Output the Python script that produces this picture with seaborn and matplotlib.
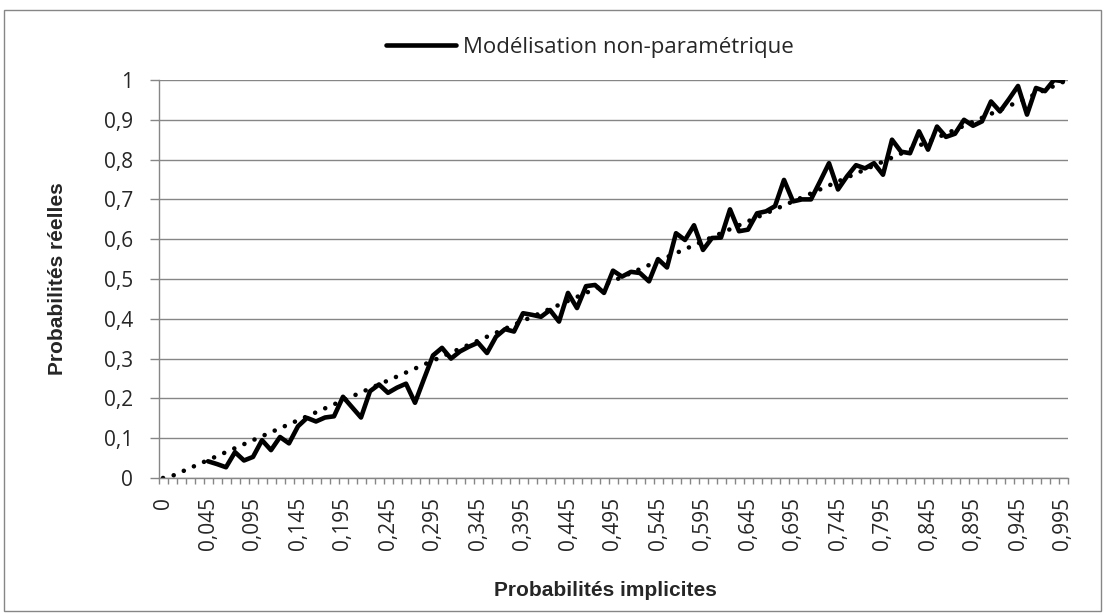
import seaborn as sns
import pandas as pd
import matplotlib.pyplot as plt
from matplotlib.patches import Rectangle

# Categories on the x axis (probabilités implicites)
implicit = [0,
            0.005, 0.015, 0.025, 0.035, 0.045, 0.055, 0.065, 0.075, 0.085, 0.095,
            0.105, 0.115, 0.125, 0.135, 0.145, 0.155, 0.165, 0.175, 0.185, 0.195,
            0.205, 0.215, 0.225, 0.235, 0.245, 0.255, 0.265, 0.275, 0.285, 0.295,
            0.305, 0.315, 0.325, 0.335, 0.345, 0.355, 0.365, 0.375, 0.385, 0.395,
            0.405, 0.415, 0.425, 0.435, 0.445, 0.455, 0.465, 0.475, 0.485, 0.495,
            0.505, 0.515, 0.525, 0.535, 0.545, 0.555, 0.565, 0.575, 0.585, 0.595,
            0.605, 0.615, 0.625, 0.635, 0.645, 0.655, 0.665, 0.675, 0.685, 0.695,
            0.705, 0.715, 0.725, 0.735, 0.745, 0.755, 0.765, 0.775, 0.785, 0.795,
            0.805, 0.815, 0.825, 0.835, 0.845, 0.855, 0.865, 0.875, 0.885, 0.895,
            0.905, 0.915, 0.925, 0.935, 0.945, 0.955, 0.965, 0.975, 0.985, 0.995]

# Non-parametric model (starts at 0,045)
nonparam = [0.042, 0.035, 0.027, 0.065, 0.044, 0.053, 0.095, 0.070, 0.103, 0.087,
            0.130, 0.151, 0.142, 0.152, 0.155, 0.204, 0.178, 0.152, 0.218, 0.235,
            0.214, 0.227, 0.237, 0.189, 0.249, 0.308, 0.327, 0.300, 0.318, 0.330,
            0.340, 0.314, 0.355, 0.374, 0.368, 0.414, 0.410, 0.405, 0.422, 0.393,
            0.465, 0.427, 0.482, 0.485, 0.465, 0.521, 0.506, 0.518, 0.515, 0.494,
            0.550, 0.529, 0.615, 0.598, 0.635, 0.573, 0.603, 0.604, 0.675, 0.620,
            0.624, 0.665, 0.670, 0.683, 0.749, 0.695, 0.700, 0.700, 0.745, 0.791,
            0.725, 0.758, 0.786, 0.778, 0.791, 0.762, 0.850, 0.820, 0.816, 0.871,
            0.825, 0.883, 0.857, 0.865, 0.900, 0.885, 0.896, 0.946, 0.921, 0.952,
            0.985, 0.913, 0.980, 0.972, 1.000, 0.997]

y_ticks = [0, 0.1, 0.2, 0.3, 0.4, 0.5, 0.6, 0.7, 0.8, 0.9, 1]

W, H = 1105, 616
grey = '#868686'

sns.set_style("white")
plt.rcParams['font.family'] = ['Open Sans', 'DejaVu Sans']

fig = plt.figure(figsize=(W / 100, H / 100), dpi=100)
ax = fig.add_axes([158.5 / W, 1 - 478 / H, (1067.5 - 158.5) / W, (478 - 80) / H])

pos = list(range(len(implicit)))
df_diag = pd.DataFrame({'pos': pos, 'val': implicit})
df_model = pd.DataFrame({'pos': pos[len(implicit) - len(nonparam):], 'val': nonparam})

sns.lineplot(data=df_diag, x='pos', y='val', ax=ax, color='black', lw=3.3,
             linestyle=(0, (0.01, 2.4)), dash_capstyle='round')
sns.lineplot(data=df_model, x='pos', y='val', ax=ax, color='black', lw=3.3,
             solid_joinstyle='round', solid_capstyle='round',
             label='Modélisation non-paramétrique')

ax.set_xlim(-0.5, len(implicit) - 0.5)
ax.set_ylim(0, 1)

# x axis: label every 5th category, small ticks between categories
ax.set_xticks(pos[::5])
ax.set_xticklabels([('%g' % v).replace('.', ',') for v in implicit[::5]],
                   rotation=90, fontsize=15)
ax.set_xticks([p - 0.5 for p in pos] + [pos[-1] + 0.5], minor=True)
ax.tick_params(axis='x', which='major', length=0, pad=13.5)
ax.tick_params(axis='x', which='minor', length=4, width=1, color=grey, direction='out')

ax.set_yticks(y_ticks)
ax.set_yticklabels([('%g' % v).replace('.', ',') for v in y_ticks], fontsize=15)
ax.tick_params(axis='y', length=6.5, width=1, color=grey, direction='out', pad=12)
ax.tick_params(left=True, bottom=True, which='both')

ax.yaxis.grid(True, color=grey, lw=1)
ax.xaxis.grid(False)
for side in ['top', 'right']:
    ax.spines[side].set_visible(False)
for side in ['left', 'bottom']:
    ax.spines[side].set_color(grey)
    ax.spines[side].set_linewidth(1)

ax.set_xlabel('')
ax.set_ylabel('')
fig.text(605 / W, 1 - 590 / H, 'Probabilités implicites', ha='center', va='center',
         family='Liberation Sans', fontweight='bold', fontsize=15)
fig.text(58 / W, 1 - 279 / H, 'Probabilités réelles', ha='center', va='center',
         rotation=90, family='Liberation Sans', fontweight='bold', fontsize=15)

ax.legend(loc='center', bbox_to_anchor=(590 / W, 1 - 47 / H), bbox_transform=fig.transFigure,
          frameon=False, fontsize=16, handlelength=3.15, handletextpad=0.3)

fig.patches.append(Rectangle((4 / W, 1 - 611 / H), (1101 - 4) / W, (611 - 10) / H,
                             transform=fig.transFigure, fill=False, ec=grey, lw=1))

fig.savefig('out.png', dpi=100)
